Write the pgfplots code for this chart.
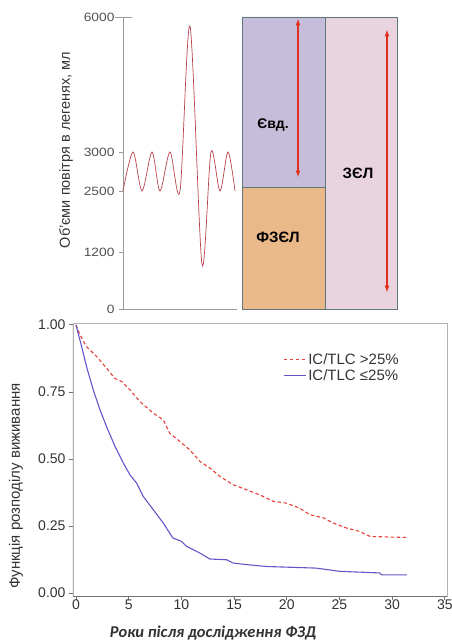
\documentclass[border=0pt]{standalone}
\usepackage{fontspec}
\setmainfont{Liberation Sans}
\newfontfamily\widefont[FakeStretch=1.15]{Liberation Sans}
\newfontfamily\carlito{Carlito}
\usepackage{pgfplots}
\pgfplotsset{compat=1.18}

\definecolor{lav}{HTML}{C6BDDA}
\definecolor{peach}{HTML}{E9B98A}
\definecolor{pinkbox}{HTML}{E8D3DF}
\definecolor{boxline}{HTML}{5F7778}
\definecolor{arrowred}{HTML}{E2301F}
\definecolor{wave}{HTML}{B9404C}
\definecolor{kmred}{HTML}{E8403A}
\definecolor{kmblue}{HTML}{6655C8}
\definecolor{txt}{HTML}{333333}

\begin{document}
\begin{tikzpicture}[x=1pt,y=1pt]
\path[use as bounding box] (0,0) rectangle (452,641);

% spirogram (schematic, non-linear volume scale)
\begin{axis}[
    at={(123pt,332pt)}, anchor=south west,
    scale only axis, width=274pt, height=292pt,
    xmin=0, xmax=274, ymin=0, ymax=6000,
    y coord trafo/.code={\pgfmathparse{#1<2500 ? 0.0472*#1 : (#1<3000 ? 118+0.078*(#1-2500) : 157+0.045*(#1-3000))}},
    y coord inv trafo/.code={\pgfmathparse{#1}},
    axis x line=none, axis y line=left,
    y axis line style={-, draw=gray!80, line width=0.8pt},
    ytick={0,1200,2500,3000,6000},
    yticklabels={0,1200,2500,3000,6000},
    tick align=outside, major tick length=4pt,
    ytick style={draw=gray!80, line width=0.8pt},
    yticklabel style={font=\widefont\fontsize{12}{12}\selectfont, text=txt!85!white, xshift=-1pt},
    clip=false,
]
\addplot[draw=boxline, fill=lav, line width=0.8pt] coordinates {(119,2550) (202,2550) (202,6000) (119,6000) (119,2550)};
\addplot[draw=boxline, fill=peach, line width=0.8pt] coordinates {(119,0) (202,0) (202,2550) (119,2550) (119,0)};
\addplot[draw=boxline, fill=pinkbox, line width=0.8pt] coordinates {(202,0) (274,0) (274,6000) (202,6000) (202,0)};
\addplot[arrowred, line width=1.2pt, <->, >=latex] coordinates {(175,2680) (175,5955)};
\addplot[arrowred, line width=1.2pt, <->, >=latex] coordinates {(264,360) (264,5711)};
\addplot[wave, line width=0.7pt, smooth] coordinates {
    (0,2500) (10,3000) (19,2500) (29,3000) (37,2500) (47,3000) (57,2500)
    (67,5800) (79,950) (88,3000) (97,2500) (105,3000) (112,2500)
};
\addplot[gray!80, line width=0.8pt] coordinates {(0,0) (114,0)};
\addplot[gray!80, line width=0.8pt] coordinates {(-8,6000) (9,6000)};
\end{axis}

\node[rotate=90, text=txt, font=\fontsize{14.5}{14.5}\selectfont] at (66,491) {Об’єми повітря в легенях, мл};
\node[font=\bfseries\fontsize{14}{14}\selectfont] at (273,516) {Євд.};
\node[font=\bfseries\fontsize{15}{15}\selectfont] at (278,404) {ФЗЄЛ};
\node[font=\bfseries\fontsize{15}{15}\selectfont] at (358,468) {ЗЄЛ};

% survival curves
\begin{axis}[
    at={(73pt,45pt)}, anchor=south west,
    scale only axis, width=374pt, height=273pt,
    xmin=-0.28, xmax=35.2, ymin=-0.011, ymax=1.007,
    axis line style={draw=gray!60, line width=0.8pt},
    xtick={0,5,...,35}, ytick={0,0.25,0.5,0.75,1},
    xtick pos=bottom, ytick pos=left,
    tick align=outside, major tick length=4pt,
    tick style={draw=gray!90!black, line width=0.8pt},
    /pgf/number format/assume math mode=true,
    yticklabel style={/pgf/number format/.cd, fixed, fixed zerofill, precision=2},
    ticklabel style={font=\fontsize{14}{14}\selectfont, text=txt},
    xticklabel style={yshift=4pt},
    legend style={at={(0.553,0.905)}, anchor=north west, draw=none, fill=none,
        font=\fontsize{15}{15}\selectfont, row sep=0pt},
    legend cell align=left,
]
\addplot[kmred, line width=1.1pt, dash pattern=on 3.5pt off 2.5pt, forget plot] coordinates {
    (0,1.0) (0.38,0.963) (1.0,0.919) (1.96,0.882) (2.9,0.839) (3.7,0.80)
    (4.33,0.789) (5.12,0.758) (6.07,0.714) (7.33,0.671) (8.28,0.646) (8.9,0.596)
    (9.86,0.565) (10.8,0.534) (11.76,0.491) (12.7,0.466) (13.66,0.435) (14.9,0.404)
    (16.2,0.385) (17.45,0.366) (18.7,0.342) (20.0,0.335) (21.2,0.317) (22.2,0.292)
    (23.5,0.280) (24.4,0.261) (25.7,0.242) (26.9,0.230) (27.9,0.211) (31.5,0.207)
};
\addplot[kmblue, line width=1.1pt, forget plot] coordinates {
    (0,1.0) (0.54,0.919) (1.0,0.845) (1.64,0.758) (2.28,0.683) (2.9,0.621)
    (3.7,0.547) (4.5,0.484) (5.12,0.441) (5.75,0.41) (6.39,0.36) (7.33,0.311)
    (8.28,0.261) (9.2,0.205) (10.0,0.193) (10.5,0.174) (11.76,0.149) (12.7,0.127)
    (14.3,0.124) (14.9,0.112) (16.2,0.106) (18.1,0.099) (22.8,0.093) (25.0,0.081)
    (28.8,0.075) (29.0,0.068) (31.4,0.068)
};
\addlegendimage{legend image code/.code={\draw[kmred, line width=1.3pt, dash pattern=on 3.5pt off 2.5pt] (0pt,0pt) -- (22pt,0pt);}}
\addlegendentry{\textcolor{txt}{IC/TLC >25\%}}
\addlegendimage{legend image code/.code={\draw[kmblue, line width=1.3pt] (0pt,0pt) -- (22pt,0pt);}}
\addlegendentry{\textcolor{txt}{IC/TLC ≤25\%}}
\draw[gray!90!black, line width=1pt] (rel axis cs:0,1) -- (rel axis cs:0,0) -- (rel axis cs:1,0);
\end{axis}

\node[rotate=90, text=txt, font=\fontsize{15}{15}\selectfont] at (16,155) {Функція розподілу виживання};
\node[text=txt, font=\carlito\bfseries\itshape\fontsize{16.5}{16.5}\selectfont] at (213,8) {Роки після дослідження ФЗД};
\end{tikzpicture}
\end{document}
